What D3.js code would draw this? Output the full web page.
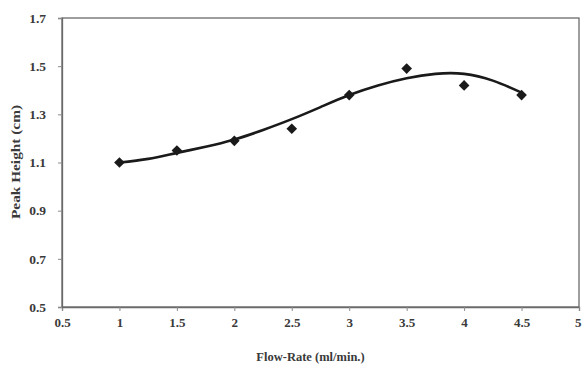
<!DOCTYPE html>
<html lang="en">
<head>
  <meta charset="UTF-8">
  <title>Peak Height vs Flow-Rate</title>
  <style>
    body, html {
      margin: 0;
      padding: 0;
      background-color: #fff;
    }
    #svg text {
      font-family: "Liberation Serif", "DejaVu Serif", serif;
      font-weight: bold;
      fill: #3a3a3a;
    }
  </style>
</head>
<body>
  <svg id="svg" width="582" height="367"></svg>
  <script src="https://d3js.org/d3.v7.min.js"></script>
  <script>
    // measured points
    const flowRate = [1, 1.5, 2, 2.5, 3, 3.5, 4, 4.5]
    const peakHeight = [1.10, 1.15, 1.19, 1.24, 1.38, 1.49, 1.42, 1.38]

    // trend curve
    const trendX = [1, 1.25, 1.5, 1.75, 2, 2.25, 2.5, 2.75, 3, 3.25, 3.5, 3.75, 4, 4.25, 4.5]
    const trendY = [1.10, 1.115, 1.14, 1.165, 1.195, 1.235, 1.28, 1.33, 1.38, 1.42, 1.45, 1.468, 1.468, 1.44, 1.39]

    const xTicks = [0.5, 1, 1.5, 2, 2.5, 3, 3.5, 4, 4.5, 5]
    const yTicks = [0.5, 0.7, 0.9, 1.1, 1.3, 1.5, 1.7]

    const plotLeft = 62, plotRight = 579, plotTop = 18, plotBottom = 307

    const svg = d3.select('#svg')

    const xScale = d3.scaleLinear()
      .domain([0.5, 5])
      .range([plotLeft, plotRight])
    const yScale = d3.scaleLinear()
      .domain([0.5, 1.7])
      .range([plotBottom, plotTop])

    // plot frame
    svg.append('rect')
      .attr('x', plotLeft)
      .attr('y', plotTop)
      .attr('width', plotRight - plotLeft)
      .attr('height', plotBottom - plotTop)
      .attr('fill', 'none')
      .attr('stroke', '#6a6a6a')
      .attr('stroke-width', 1.3)

    const bottomAxis = d3.axisBottom(xScale)
      .tickValues(xTicks)
      .tickFormat(d3.format('~g'))
      .tickSize(4)
      .tickPadding(7)
    const leftAxis = d3.axisLeft(yScale)
      .tickValues(yTicks)
      .tickFormat(d3.format('.1f'))
      .tickSize(4)
      .tickPadding(12)

    const gx = svg.append('g')
      .attr('transform', `translate(0, ${plotBottom})`)
      .call(bottomAxis)
    const gy = svg.append('g')
      .attr('transform', `translate(${plotLeft}, 0)`)
      .call(leftAxis)

    for (const g of [gx, gy]) {
      g.select('.domain').attr('stroke', '#6a6a6a').attr('stroke-width', 1.3)
      g.selectAll('.tick line').attr('stroke', '#8a8a8a')
      g.selectAll('.tick text').style('font-size', '13px')
    }
    gy.selectAll('.tick text').style('font-size', '13.5px')
    // last label sits at the right edge of the page
    gx.selectAll('.tick text')
      .filter(d => d === 5)
      .attr('text-anchor', 'end')
      .attr('dx', 2)

    // trend line
    const trend = trendX.map((x, i) => [x, trendY[i]])
    svg.append('path')
      .datum(trend)
      .attr('fill', 'none')
      .attr('stroke', '#1a1a1a')
      .attr('stroke-width', 2.6)
      .attr('d', d3.line()
        .x(d => xScale(d[0]))
        .y(d => yScale(d[1]))
        .curve(d3.curveNatural))

    // diamonds
    const points = flowRate.map((x, i) => [x, peakHeight[i]])
    svg.selectAll('path.pt')
      .data(points)
      .enter()
      .append('path')
      .attr('class', 'pt')
      .attr('d', d3.symbol().type(d3.symbolDiamond2).size(72))
      .attr('transform', d => `translate(${xScale(d[0])}, ${yScale(d[1])})`)
      .attr('fill', '#1a1a1a')

    // axis titles
    svg.append('text')
      .attr('x', (plotLeft + plotRight) / 2 - 10)
      .attr('y', 361)
      .attr('text-anchor', 'middle')
      .style('font-size', '12.5px')
      .text('Flow-Rate (ml/min.)')

    svg.append('text')
      .attr('transform', 'translate(20, 162) rotate(-90)')
      .attr('text-anchor', 'middle')
      .attr('textLength', 114)
      .attr('lengthAdjust', 'spacingAndGlyphs')
      .style('font-size', '12.5px')
      .text('Peak Height (cm)')
  </script>
</body>
</html>
